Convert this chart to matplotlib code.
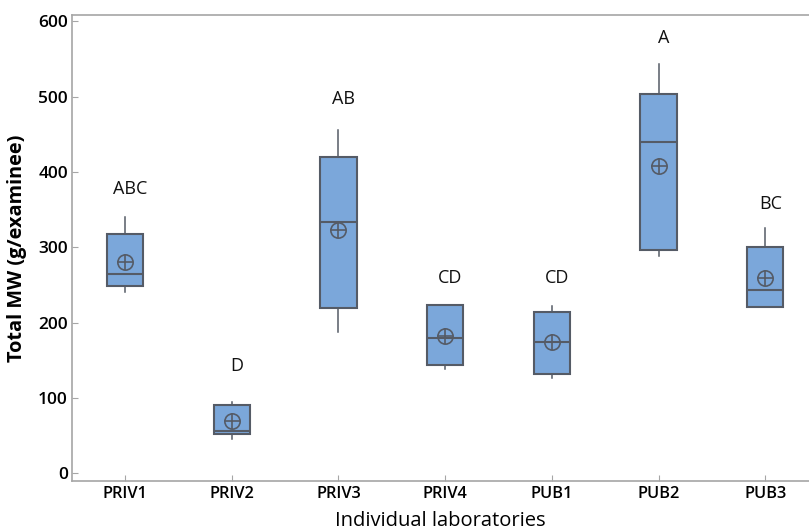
import matplotlib
matplotlib.use('Agg')
import matplotlib.pyplot as plt

labs = ['PRIV1', 'PRIV2', 'PRIV3', 'PRIV4', 'PUB1', 'PUB2', 'PUB3']
whisk_lo = [240, 46, 188, 138, 127, 288, 221]
q1 = [249, 52, 220, 143, 132, 296, 221]
med = [265, 56, 333, 180, 174, 440, 243]
q3 = [318, 90, 420, 223, 214, 503, 300]
whisk_hi = [340, 94, 456, 223, 222, 543, 325]
means = [280, 69, 323, 182, 174, 408, 259]
groups = ['ABC', 'D', 'AB', 'CD', 'CD', 'A', 'BC']
group_y = [378, 142, 497, 259, 259, 578, 358]

box_fill = '#7ba7da'
edge = '#555b66'
spine = '#a6a6a6'

plt.rcParams['font.family'] = ['Open Sans', 'DejaVu Sans']

fig = plt.figure(figsize=(8.09, 5.32), dpi=100)
ax = fig.add_axes([0.089, 0.0964, 0.911, 0.8748])

stats = []
for i in range(len(labs)):
    stats.append({'whislo': whisk_lo[i], 'q1': q1[i], 'med': med[i],
                  'q3': q3[i], 'whishi': whisk_hi[i], 'fliers': []})

pos = list(range(1, len(labs) + 1))
ax.bxp(stats, positions=pos, widths=0.34, showcaps=False, patch_artist=True,
       boxprops=dict(facecolor=box_fill, edgecolor=edge, linewidth=1.5),
       medianprops=dict(color=edge, linewidth=1.5),
       whiskerprops=dict(color=edge, linewidth=1.1))

# mean symbol: circle with a cross
ax.plot(pos, means, 'o', ms=11, mfc='none', mec=edge, mew=1.2, zorder=4)
ax.plot(pos, means, '+', ms=11, mec=edge, mew=1.2, zorder=4)

for p, g, y in zip(pos, groups, group_y):
    ax.text(p + 0.05, y, g, ha='center', va='center', fontsize=13, color='#111111')

ax.set_xlim(0.503, 7.41)
ax.set_ylim(-10, 608)
ax.set_yticks([0, 100, 200, 300, 400, 500, 600])
ax.set_xticks(pos)
ax.set_xticklabels(labs)
for lbl in ax.get_xticklabels():
    lbl.set_fontweight('semibold')
    lbl.set_fontsize(11.8)
for lbl in ax.get_yticklabels():
    lbl.set_fontweight('semibold')
    lbl.set_fontsize(12.5)
ax.tick_params(direction='in', length=4, color=spine, pad=4)
ax.tick_params(axis='y', pad=3)

for s in ['left', 'bottom', 'top']:
    ax.spines[s].set_color(spine)
    ax.spines[s].set_linewidth(1.2)
ax.spines['right'].set_visible(False)

ax.set_ylabel('Total MW (g/examinee)', fontsize=14.3, fontweight='bold', labelpad=8)
ax.set_xlabel('Individual laboratories', fontsize=14.5, labelpad=6)

fig.savefig('out.png', dpi=100)
